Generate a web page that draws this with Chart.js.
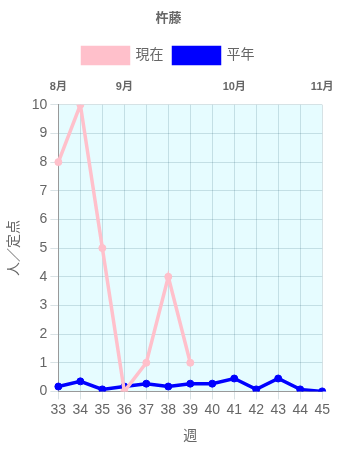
<!DOCTYPE html>
<html>
<head>
<meta charset="utf-8">
<script src="https://cdn.jsdelivr.net/npm/chart.js@4"></script>
<style>
  html, body { margin: 0; padding: 0; background: #fff; }
  #wrap { width: 337px; height: 450px; }
</style>
</head>
<body>
<div id="wrap"><canvas id="chart"></canvas></div>
<script>
// Data
const weeks = ['33', '34', '35', '36', '37', '38', '39', '40', '41', '42', '43', '44', '45'];
const monthLabels = ['8月', '', '', '9月', '', '', '', '', '10月', '', '', '', '11月'];
const currentValues = [8, 10, 5, 0, 1, 4, 1, null, null, null, null, null, null];
const normalValues = [0.17, 0.35, 0.07, 0.17, 0.27, 0.17, 0.27, 0.27, 0.45, 0.07, 0.45, 0.07, 0];

Chart.defaults.font.family = '"Liberation Sans", "Noto Sans CJK JP", sans-serif';
Chart.defaults.color = '#666';

// fill plot area with light cyan
const areaBg = {
    id: 'areaBg',
    beforeDraw(chart) {
        const a = chart.chartArea;
        const c = chart.ctx;
        c.save();
        c.fillStyle = '#e6fcff';
        c.fillRect(a.left, a.top, a.right - a.left, a.bottom - a.top);
        c.restore();
    }
};

// a bit more room under the legend
const legendGap = {
    id: 'legendGap',
    beforeInit(chart) {
        const origFit = chart.legend.fit;
        chart.legend.fit = function () {
            origFit.call(this);
            this.height += 3;
        };
    }
};

new Chart(document.getElementById('chart'), {
    type: 'line',
    data: {
        labels: weeks,
        datasets: [{
            label: '現在',
            data: currentValues,
            borderColor: 'pink',
            backgroundColor: 'pink',
            borderWidth: 3.5,
            pointRadius: 3.5,
            pointBorderWidth: 1,
            tension: 0,
            spanGaps: false
        }, {
            label: '平年',
            data: normalValues,
            borderColor: 'blue',
            backgroundColor: 'blue',
            borderWidth: 3.5,
            pointRadius: 3.5,
            pointBorderWidth: 1,
            tension: 0
        }]
    },
    options: {
        responsive: true,
        maintainAspectRatio: false,
        animation: false,
        layout: { padding: { left: 0, right: 0, top: 0, bottom: 5 } },
        plugins: {
            title: {
                display: true,
                text: '杵藤',
                font: { size: 13, weight: 'bold' },
                padding: { top: 11, bottom: 11 }
            },
            legend: {
                labels: {
                    boxWidth: 46,
                    boxHeight: 16,
                    font: { size: 14 },
                    padding: 10
                }
            },
            tooltip: { enabled: false }
        },
        scales: {
            x: {
                grid: { color: 'rgba(0, 60, 80, 0.15)' },
                border: { color: '#999' },
                ticks: { font: { size: 14 }, maxRotation: 0, autoSkip: false, padding: 2 },
                title: { display: true, text: '週', font: { size: 14 }, padding: { top: 8, bottom: 0 } }
            },
            x2: {
                type: 'category',
                position: 'top',
                labels: monthLabels,
                // hidden tick marks still reserve space under the month labels
                grid: { display: false, drawTicks: true, tickLength: 8 },
                border: { display: false },
                ticks: { font: { size: 11, weight: 'bold' }, maxRotation: 0, autoSkip: false, padding: 3.5 }
            },
            y: {
                min: 0,
                max: 10,
                grid: { color: 'rgba(0, 60, 80, 0.15)' },
                border: { color: '#999' },
                ticks: { stepSize: 1, font: { size: 14 } },
                title: { display: true, text: '人／定点', font: { size: 14 }, padding: 6 }
            }
        }
    },
    plugins: [areaBg, legendGap]
});
</script>
</body>
</html>
